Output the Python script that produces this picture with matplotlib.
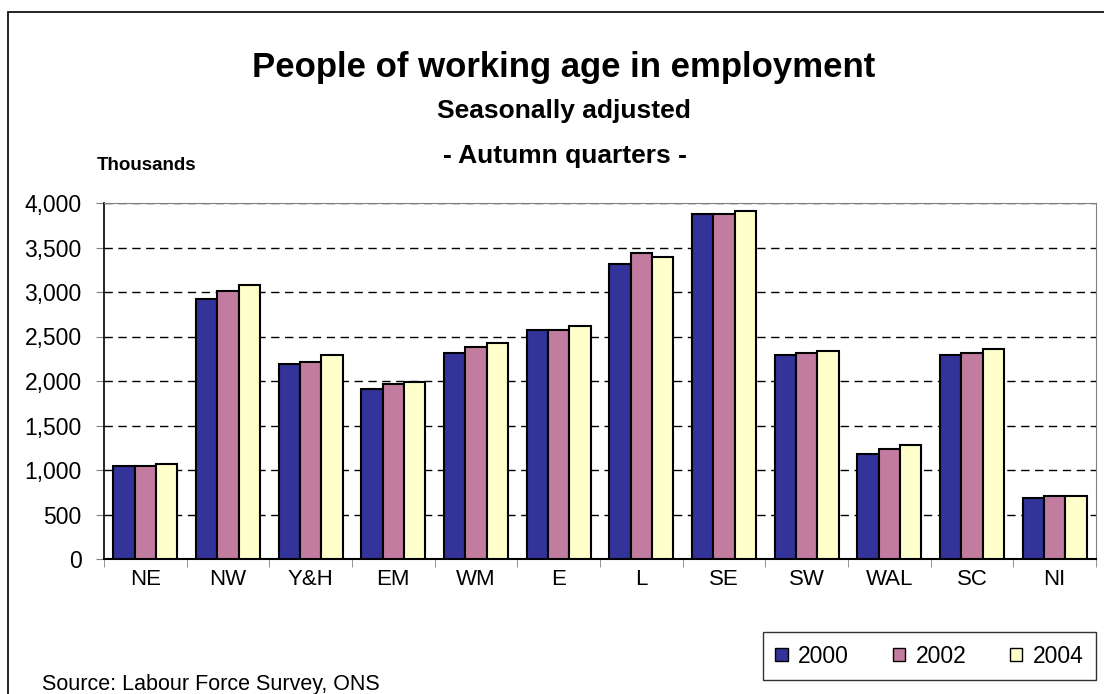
import matplotlib.pyplot as plt
import numpy as np
from matplotlib.patches import Rectangle

# 지역 (Thousands, autumn quarters)
regions = ['NE', 'NW', 'Y&H', 'EM', 'WM', 'E', 'L', 'SE', 'SW', 'WAL', 'SC', 'NI']
years = ['2000', '2002', '2004']
emp_2000 = [1040, 2920, 2190, 1915, 2310, 2570, 3320, 3880, 2290, 1185, 2290, 680]
emp_2002 = [1040, 3015, 2215, 1965, 2380, 2570, 3435, 3880, 2310, 1235, 2310, 705]
emp_2004 = [1070, 3080, 2290, 1985, 2430, 2615, 3390, 3905, 2335, 1280, 2355, 705]

colors = ['#333399', '#C27C9F', '#FFFFCC']

plt.rcParams['font.family'] = ['Liberation Sans', 'DejaVu Sans']

fig = plt.figure(figsize=(11.04, 6.94), dpi=100)
ax = fig.add_axes([104 / 1104, 1 - 559 / 694, (1096 - 104) / 1104, (559 - 203) / 694])

x = np.arange(len(regions))
w = 0.258
for i, (vals, c, lab) in enumerate(zip([emp_2000, emp_2002, emp_2004], colors, years)):
  ax.bar(x + (i - 1) * w, vals, width=w, color=c, edgecolor='black',
         linewidth=1.5, label=lab, zorder=3)

ax.set_xlim(-0.5, len(regions) - 0.5)
ax.set_ylim(0, 4000)
ax.set_yticks(np.arange(0, 4001, 500))
ax.set_yticklabels([f'{v:,}' for v in range(0, 4001, 500)], fontsize=16.5)
ax.set_xticks(x)
ax.set_xticklabels(regions, fontsize=16)
ax.set_xticks(np.arange(-0.5, len(regions), 1), minor=True)
ax.tick_params(axis='x', which='major', length=0, pad=7)
ax.tick_params(axis='x', which='minor', length=6, direction='out', color='#808080')
ax.tick_params(axis='y', length=6, direction='out', color='#808080', pad=10)

for v in range(500, 4001, 500):
  ax.axhline(v, color='black', linestyle=(0, (6, 4)), linewidth=1, zorder=1)

ax.spines['top'].set_color('#808080')
ax.spines['right'].set_color('#808080')
ax.spines['left'].set_color('black')
ax.spines['bottom'].set_color('black')
ax.spines['left'].set_linewidth(1.2)
ax.spines['bottom'].set_linewidth(1.5)

leg = ax.legend(loc='upper right', bbox_to_anchor=(1.0, -0.205), ncol=3, fontsize=16.5,
                frameon=True, fancybox=False, edgecolor='black', handlelength=0.55,
                handleheight=0.55, handletextpad=0.45, columnspacing=1.9,
                borderpad=0.55, borderaxespad=0)
leg.get_frame().set_linewidth(1)
for h in leg.legend_handles:
  h.set_linewidth(1)

fig.text(564 / 1104, 1 - 77 / 694, 'People of working age in employment',
         ha='center', va='baseline', fontsize=25, fontweight='bold')
fig.text(564 / 1104, 1 - 118 / 694, 'Seasonally adjusted',
         ha='center', va='baseline', fontsize=19, fontweight='bold')
fig.text(565 / 1104, 1 - 163 / 694, '- Autumn quarters -',
         ha='center', va='baseline', fontsize=19, fontweight='bold')
fig.text(97 / 1104, 1 - 170 / 694, 'Thousands',
         ha='left', va='baseline', fontsize=13.5, fontweight='bold')
fig.text(42 / 1104, 1 - 690 / 694, 'Source: Labour Force Survey, ONS',
         ha='left', va='baseline', fontsize=15.5)

# 바깥 테두리
fig.patches.append(Rectangle((8 / 1104, -0.1), 1.2, 1 - 12 / 694 + 0.1,
                             transform=fig.transFigure, fill=False,
                             edgecolor='black', linewidth=1.2))

fig.savefig('out.png', dpi=100)
